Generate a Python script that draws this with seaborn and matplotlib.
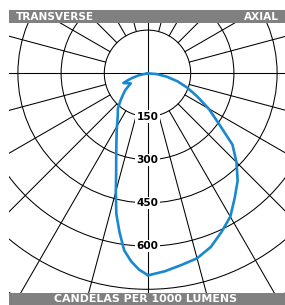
import numpy as np
import pandas as pd
import matplotlib
matplotlib.use("Agg")
import matplotlib.pyplot as plt
from matplotlib.patches import Circle, Rectangle
import seaborn as sns

# -----------------------------
# Data (candela per 1000 lumens, angle from nadir)
# -----------------------------

transverse_angles = [0, 2.5, 5, 7.5, 10, 12.5, 15, 17.5, 20, 22.5, 25, 27.5,
                     30, 35, 40, 45, 50, 53, 59, 68, 70, 73, 77, 90]
transverse_cd = [700, 682, 655, 620, 560, 500, 425, 362, 318, 283, 255, 232,
                 212, 180, 160, 132, 108, 96, 68, 90, 76, 56, 31, 0]

axial_angles = [0, 5, 10, 15, 20, 25, 30, 35, 40, 45, 50, 55, 60, 65, 70,
                75, 80, 85, 90]
axial_cd = [702, 690, 676, 665, 642, 608, 575, 528, 487, 437, 385, 300, 245,
            190, 148, 108, 68, 32, 0]

ring_values = [150, 300, 450, 600, 750, 900]
ring_labels = ["150", "300", "450", "600"]
spoke_angles = list(range(0, 360, 15))

# -----------------------------
# Polar -> plane (0 deg = straight down)
# -----------------------------

t = np.radians(transverse_angles)[::-1]
tr = np.array(transverse_cd)[::-1]
a = np.radians(axial_angles)
ar = np.array(axial_cd)

df = pd.DataFrame({
    "x": np.concatenate([-tr * np.sin(t), ar * np.sin(a)]),
    "y": np.concatenate([-tr * np.cos(t), -ar * np.cos(a)]),
})

# -----------------------------
# Figure
# -----------------------------

sns.set_style("white")
plt.rcParams["font.family"] = ["DejaVu Sans"]

W, H = 285, 305
fig = plt.figure(figsize=(W / 100, H / 100), dpi=100)

scale = 0.288          # px per candela
cx, cy = 147.5, 73.3   # centre in px (from top-left)
left_px, top_px = 9, 10

ax = fig.add_axes([left_px / W, 0, (W - left_px) / W, (H - top_px) / H])
ax.set_xlim(-(cx - left_px) / scale, (W - cx) / scale)
ax.set_ylim(-(H - cy) / scale, (cy - top_px) / scale)
ax.axis("off")

grid_kw = dict(color="black", lw=0.75, zorder=1)

for r in ring_values:
    ax.add_patch(Circle((0, 0), r, fill=False, ec="black", lw=0.75, zorder=1))

for ang in spoke_angles:
    th = np.radians(ang)
    ax.plot([150 * np.sin(th), 2000 * np.sin(th)],
            [-150 * np.cos(th), -2000 * np.cos(th)], **grid_kw)

ax.axhline(0, **grid_kw)
ax.axvline(0, **grid_kw)

for r, lab in zip(ring_values, ring_labels):
    ax.text(0, -r, lab, ha="center", va="center", fontsize=7.6,
            fontweight="bold", color="black", zorder=3,
            bbox=dict(facecolor="white", edgecolor="none", pad=0.8))

sns.lineplot(data=df, x="x", y="y", sort=False, estimator=None,
             color="#1888d0", lw=1.9, ax=ax, zorder=4)
ax.set_xlabel("")
ax.set_ylabel("")

# -----------------------------
# Header / footer bars
# -----------------------------

bar_color = "#808080"
fig.patches.append(Rectangle((left_px / W, 1 - 22.7 / H), 1, 12.7 / H,
                             transform=fig.transFigure, fc=bar_color,
                             ec="none", zorder=10))
fig.patches.append(Rectangle((left_px / W, 0), 1, 12.5 / H,
                             transform=fig.transFigure, fc=bar_color,
                             ec="none", zorder=10))

fig.text(16 / W, 1 - 16.6 / H, "TRANSVERSE", ha="left", va="center",
         color="white", fontsize=7.6, fontweight="bold", zorder=11)
fig.text(279 / W, 1 - 16.6 / H, "AXIAL", ha="right", va="center",
         color="white", fontsize=7.6, fontweight="bold", zorder=11)
fig.text(145 / W, 1 - 299 / H, "CANDELAS PER 1000 LUMENS", ha="center",
         va="center", color="white", fontsize=7.9, fontweight="bold",
         zorder=11)

fig.savefig("out.png", dpi=100)
